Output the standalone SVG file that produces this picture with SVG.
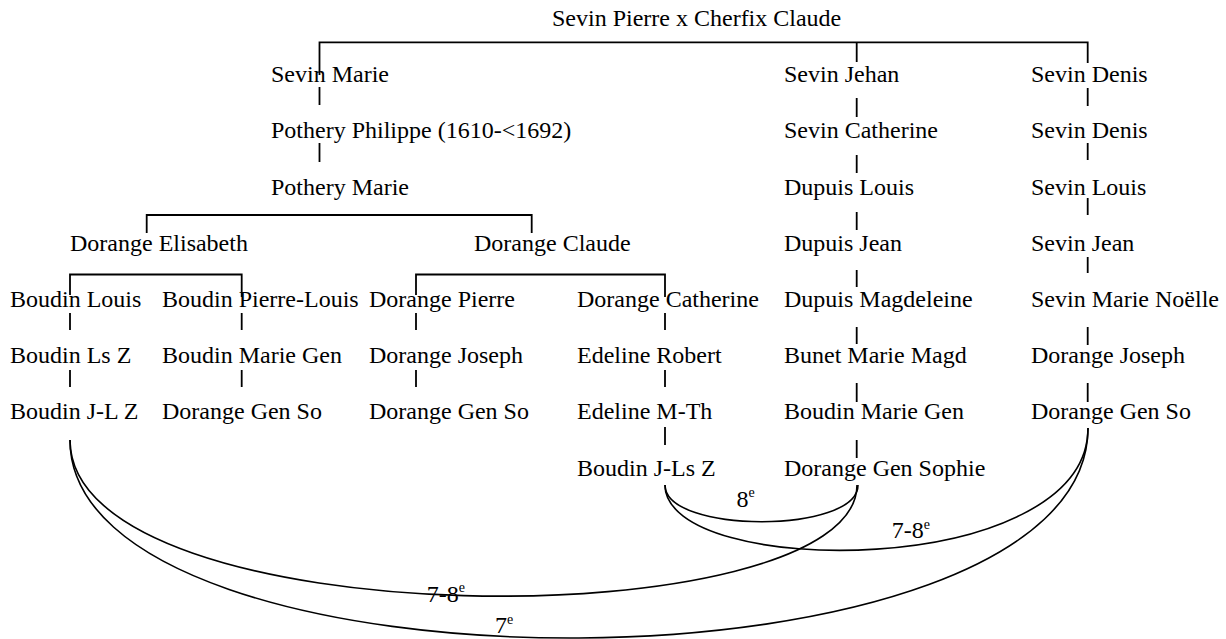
<svg xmlns="http://www.w3.org/2000/svg" width="1226" height="639" viewBox="0 0 1226 639">
<style>
text{font-family:"Liberation Serif","Times New Roman",serif;font-size:24px;fill:#000}
.sup{font-size:14px}
.l{fill:none;stroke:#000;stroke-width:1.8}
.c{fill:none;stroke:#000;stroke-width:1.6}
</style>
<rect width="1226" height="639" fill="#fff"/>
<g id="connectors">
<path class="l" d="M319.5 75V42.3H1087.7V63M856.7 42.3V62"/>
<path class="l" d="M319.5 87V105M319.5 143V162"/>
<path class="l" d="M856.7 98V117M856.7 155V173M856.7 212V230M856.7 270V287M856.7 327V344M856.7 383V402M856.7 440V458"/>
<path class="l" d="M1087.7 88V106M1087.7 143V160M1087.7 198V215M1087.7 257V273M1087.7 327V345M1087.7 383V402"/>
<path class="l" d="M146.7 233V215H531.7V233"/>
<path class="l" d="M70 295V274.5H241.7V297M416 295V274.5H665V297"/>
<path class="l" d="M70 313V330M70 370V387M241.7 313V330M241.7 370V387M416 313V330M416 370V387M665 313V330M665 370V387M665 427V445"/>
<path class="c" d="M665 485C665 534 858 534 858 485"/>
<path class="c" d="M665 485C665 580 1088 580 1088 428"/>
<path class="c" d="M857 485C857 640 70 640 70 440"/>
<path class="c" d="M1088 428C1088 706 70 706 70 440"/>
</g>
<g id="n_root"><text x="552" y="26">Sevin Pierre x Cherfix Claude</text></g>
<g id="n_sevin_marie"><text x="271" y="82.2">Sevin Marie</text></g>
<g id="n_pothery_philippe"><text x="271" y="138.4">Pothery Philippe (1610-&lt;1692)</text></g>
<g id="n_pothery_marie"><text x="271" y="194.6">Pothery Marie</text></g>
<g id="n_dorange_elisabeth"><text x="70" y="250.8">Dorange Elisabeth</text></g>
<g id="n_dorange_claude"><text x="474" y="250.8">Dorange Claude</text></g>
<g id="n_boudin_louis"><text x="10" y="307">Boudin Louis</text></g>
<g id="n_boudin_ls_z"><text x="10" y="363.2">Boudin Ls Z</text></g>
<g id="n_boudin_jl_z"><text x="10" y="419.4">Boudin J-L Z</text></g>
<g id="n_boudin_pierre_louis"><text x="162" y="307">Boudin Pierre-Louis</text></g>
<g id="n_boudin_marie_gen_b"><text x="162" y="363.2">Boudin Marie Gen</text></g>
<g id="n_dorange_gen_so_b"><text x="162" y="419.4">Dorange Gen So</text></g>
<g id="n_dorange_pierre"><text x="369" y="307">Dorange Pierre</text></g>
<g id="n_dorange_joseph_c"><text x="369" y="363.2">Dorange Joseph</text></g>
<g id="n_dorange_gen_so_c"><text x="369" y="419.4">Dorange Gen So</text></g>
<g id="n_dorange_catherine"><text x="577" y="307">Dorange Catherine</text></g>
<g id="n_edeline_robert"><text x="577" y="363.2">Edeline Robert</text></g>
<g id="n_edeline_mth"><text x="577" y="419.4">Edeline M-Th</text></g>
<g id="n_boudin_jls_z"><text x="577" y="475.6">Boudin J-Ls Z</text></g>
<g id="n_sevin_jehan"><text x="784" y="82.2">Sevin Jehan</text></g>
<g id="n_sevin_catherine"><text x="784" y="138.4">Sevin Catherine</text></g>
<g id="n_dupuis_louis"><text x="784" y="194.6">Dupuis Louis</text></g>
<g id="n_dupuis_jean"><text x="784" y="250.8">Dupuis Jean</text></g>
<g id="n_dupuis_magdeleine"><text x="784" y="307">Dupuis Magdeleine</text></g>
<g id="n_bunet_marie_magd"><text x="784" y="363.2">Bunet Marie Magd</text></g>
<g id="n_boudin_marie_gen_e"><text x="784" y="419.4">Boudin Marie Gen</text></g>
<g id="n_dorange_gen_sophie"><text x="784" y="475.6">Dorange Gen Sophie</text></g>
<g id="n_sevin_denis_1"><text x="1031" y="82.2">Sevin Denis</text></g>
<g id="n_sevin_denis_2"><text x="1031" y="138.4">Sevin Denis</text></g>
<g id="n_sevin_louis"><text x="1031" y="194.6">Sevin Louis</text></g>
<g id="n_sevin_jean"><text x="1031" y="250.8">Sevin Jean</text></g>
<g id="n_sevin_marie_noelle"><text x="1031" y="307">Sevin Marie Noëlle</text></g>
<g id="n_dorange_joseph_f"><text x="1031" y="363.2">Dorange Joseph</text></g>
<g id="n_dorange_gen_so_f"><text x="1031" y="419.4">Dorange Gen So</text></g>
<g id="labels">
<text x="736.5" y="506.7">8<tspan class="sup" dy="-9.5">e</tspan></text>
<text x="891.7" y="538.3">7-8<tspan class="sup" dy="-9.5">e</tspan></text>
<text x="426.7" y="601.7">7-8<tspan class="sup" dy="-9.5">e</tspan></text>
<text x="495" y="633.3">7<tspan class="sup" dy="-9.5">e</tspan></text>
</g>
</svg>
